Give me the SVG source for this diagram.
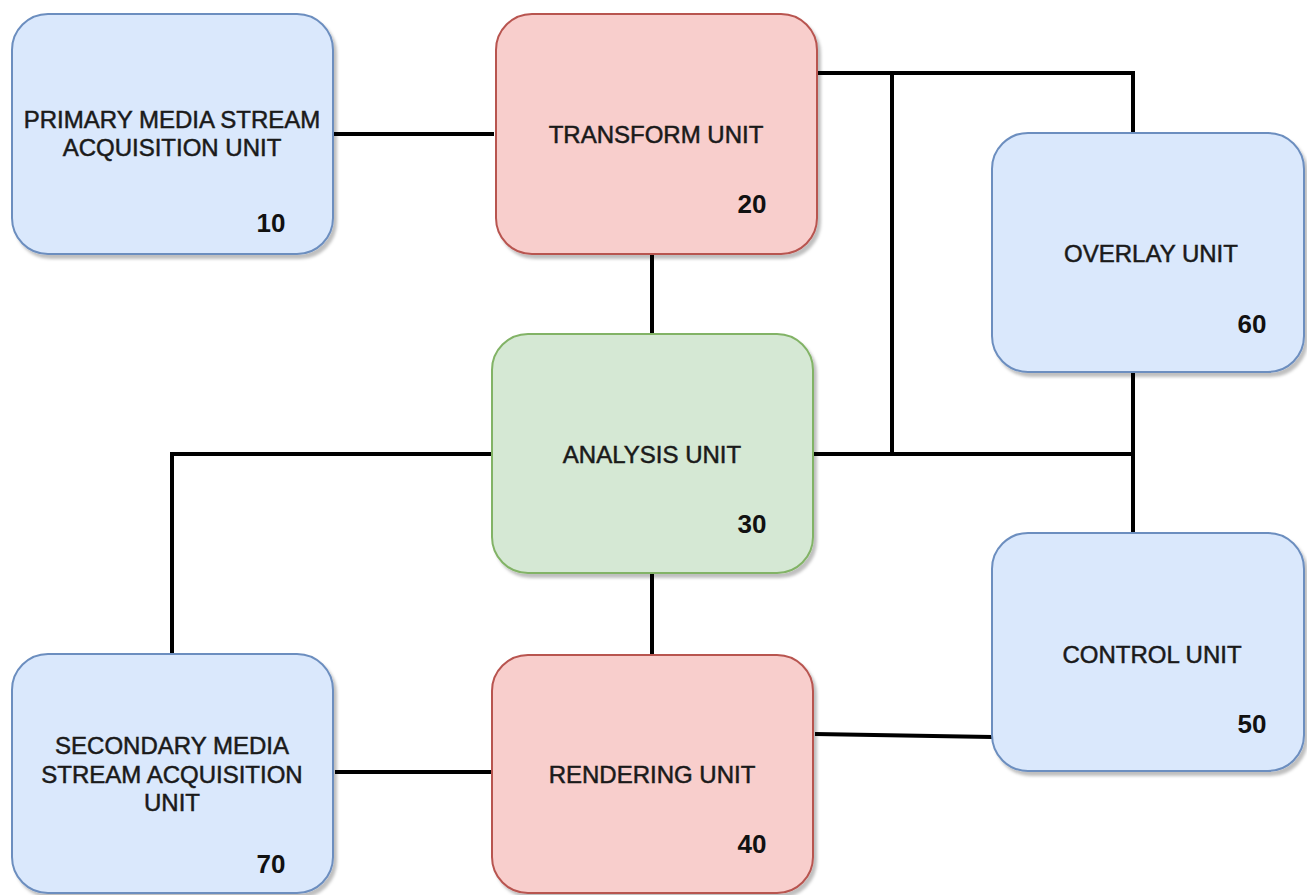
<svg xmlns="http://www.w3.org/2000/svg" width="1307" height="895" viewBox="0 0 1307 895">
  <style>
    .box { stroke-width: 2; filter: url(#shadow); }
    .blue { fill: #dae8fc; stroke: #6c8ebf; }
    .red { fill: #f8cecc; stroke: #b85450; }
    .green { fill: #d5e8d4; stroke: #82b366; }
    .label { font-family: "Liberation Sans", Arial, sans-serif; font-size: 24px; fill: #1a1a1a; stroke: #1a1a1a; stroke-width: 0.5; text-anchor: middle; }
    .num { font-family: "Liberation Sans", Arial, sans-serif; font-size: 26px; font-weight: bold; fill: #111; text-anchor: middle; }
    .wire { stroke: #000; stroke-width: 4; fill: none; stroke-linejoin: miter; stroke-linecap: butt; }
  </style>
  <defs>
    <filter id="shadow" x="-10%" y="-10%" width="130%" height="130%">
      <feDropShadow dx="3" dy="4" stdDeviation="1.5" flood-color="#000" flood-opacity="0.25"/>
    </filter>
  </defs>
  <rect width="1307" height="895" fill="#ffffff"/>

  <g id="connectors">
    <path class="wire" d="M333 134 H494"/>
    <path class="wire" d="M817 73 H1133 V134"/>
    <path class="wire" d="M892 73 V454"/>
    <path class="wire" d="M813 454 H1133"/>
    <path class="wire" d="M1133 372 V534"/>
    <path class="wire" d="M652 254 V334"/>
    <path class="wire" d="M652 573 V655"/>
    <path class="wire" d="M492 454 H172 V655"/>
    <path class="wire" d="M335 772 H494"/>
    <path class="wire" d="M815 734 L992 737"/>
  </g>

  <g id="node10">
    <rect class="box blue" x="12" y="14" width="321" height="240" rx="36" ry="36"/>
    <text class="label" x="172" y="128">PRIMARY MEDIA STREAM</text>
    <text class="label" x="172" y="156">ACQUISITION UNIT</text>
    <text class="num" x="271" y="232">10</text>
  </g>

  <g id="node20">
    <rect class="box red" x="496" y="14" width="321" height="240" rx="36" ry="36"/>
    <text class="label" x="656" y="143">TRANSFORM UNIT</text>
    <text class="num" x="752" y="213">20</text>
  </g>

  <g id="node60">
    <rect class="box blue" x="992" y="133" width="312" height="239" rx="36" ry="36"/>
    <text class="label" x="1151" y="262">OVERLAY UNIT</text>
    <text class="num" x="1252" y="333">60</text>
  </g>

  <g id="node30">
    <rect class="box green" x="492" y="334" width="321" height="239" rx="36" ry="36"/>
    <text class="label" x="652" y="463">ANALYSIS UNIT</text>
    <text class="num" x="752" y="533">30</text>
  </g>

  <g id="node50">
    <rect class="box blue" x="992" y="533" width="312" height="238" rx="36" ry="36"/>
    <text class="label" x="1152" y="663">CONTROL UNIT</text>
    <text class="num" x="1252" y="733">50</text>
  </g>

  <g id="node70">
    <rect class="box blue" x="12" y="654" width="321" height="239" rx="36" ry="36"/>
    <text class="label" x="172" y="754">SECONDARY MEDIA</text>
    <text class="label" x="172" y="783">STREAM ACQUISITION</text>
    <text class="label" x="172" y="811">UNIT</text>
    <text class="num" x="271" y="873">70</text>
  </g>

  <g id="node40">
    <rect class="box red" x="492" y="655" width="321" height="238" rx="36" ry="36"/>
    <text class="label" x="652" y="783">RENDERING UNIT</text>
    <text class="num" x="752" y="853">40</text>
  </g>
</svg>
